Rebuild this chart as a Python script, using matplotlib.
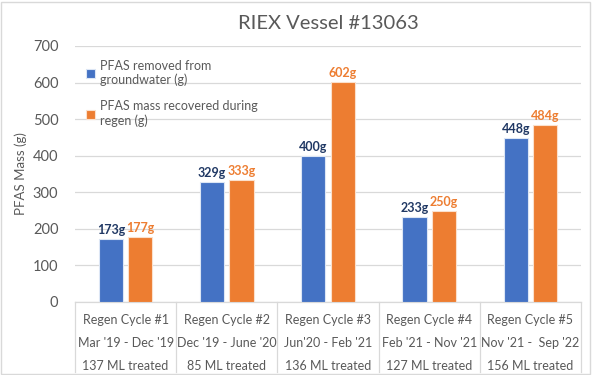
import matplotlib
matplotlib.use("Agg")
import matplotlib.pyplot as plt
import numpy as np
from matplotlib.patches import Rectangle

plt.rcParams['font.family'] = ['Lato', 'DejaVu Sans']

cycles = ["Regen Cycle #1", "Regen Cycle #2", "Regen Cycle #3", "Regen Cycle #4", "Regen Cycle #5"]
periods = ["Mar '19 - Dec '19", "Dec '19 - June '20", "Jun'20 - Feb '21", "Feb '21 - Nov '21", "Nov '21 -  Sep '22"]
treated = ["137 ML treated", "85 ML treated", "136 ML treated", "127 ML treated", "156 ML treated"]
removed = [173, 329, 400, 233, 448]
recovered = [177, 333, 602, 250, 484]
series_names = ["PFAS removed from\ngroundwater (g)", "PFAS mass recovered during\nregen (g)"]

blue = "#4472C4"
orange = "#ED7D31"
navy = "#203864"
grey_txt = "#595959"

fig = plt.figure(figsize=(5.92, 3.75), dpi=100)
ax = fig.add_axes([0.1267, 0.1947, 0.8547, 0.6827])

x = np.arange(len(cycles))
off = 0.145
w = 0.24
ax.bar(x - off, removed, w, color=blue, edgecolor="#dce6f5", linewidth=0.8, label=series_names[0], zorder=3)
ax.bar(x + off, recovered, w, color=orange, edgecolor="#fbe0cc", linewidth=0.8, label=series_names[1], zorder=3)

for xi, v in zip(x, removed):
    ax.text(xi - off, v + 8, f"{v}g", ha="center", va="bottom", fontsize=9, fontweight="bold", color=navy)
for xi, v in zip(x, recovered):
    ax.text(xi + off, v + 8, f"{v}g", ha="center", va="bottom", fontsize=9, fontweight="bold", color=orange)

ax.set_xlim(-0.5, len(cycles) - 0.5)
ax.set_ylim(0, 700)
ax.set_yticks(range(0, 701, 100))
ax.tick_params(axis='y', length=0, labelsize=10.5, colors=grey_txt, pad=12)
ax.set_xticks([])
ax.grid(axis='y', color="#D9D9D9", linewidth=0.9, zorder=0)
for s in ax.spines.values():
    s.set_visible(False)

ax.set_ylabel("PFAS Mass (g)", fontsize=9.5, color=grey_txt, labelpad=4)

# Table-style category axis
trans = ax.get_xaxis_transform()
ax.plot([-0.5, len(cycles) - 0.5], [0, 0], color="#D9D9D9", lw=0.9, transform=trans, clip_on=False)
for b in np.arange(-0.5, len(cycles), 1.0):
    ax.plot([b, b], [0, -0.275], color="#D9D9D9", lw=0.9, transform=trans, clip_on=False)
rows = [cycles, periods, treated]
ys = [-0.07, -0.16, -0.25]
for row, yy in zip(rows, ys):
    for xi, lab in zip(x, row):
        ax.text(xi, yy, lab, ha="center", va="center", fontsize=9, color=grey_txt, transform=trans, clip_on=False)

ax.set_title("RIEX Vessel #13063", fontsize=14.5, color=grey_txt, pad=12)

ax.legend(loc="upper left", bbox_to_anchor=(0.0, 0.99), frameon=False, fontsize=9,
          labelcolor=grey_txt, handlelength=0.7, handleheight=0.7, handletextpad=0.4,
          labelspacing=1.1)

fig.patches.append(Rectangle((0.002, 0.003), 0.995, 0.993, transform=fig.transFigure,
                             fill=False, edgecolor="#D9D9D9", linewidth=1.0))

fig.savefig("out.png", dpi=100)
